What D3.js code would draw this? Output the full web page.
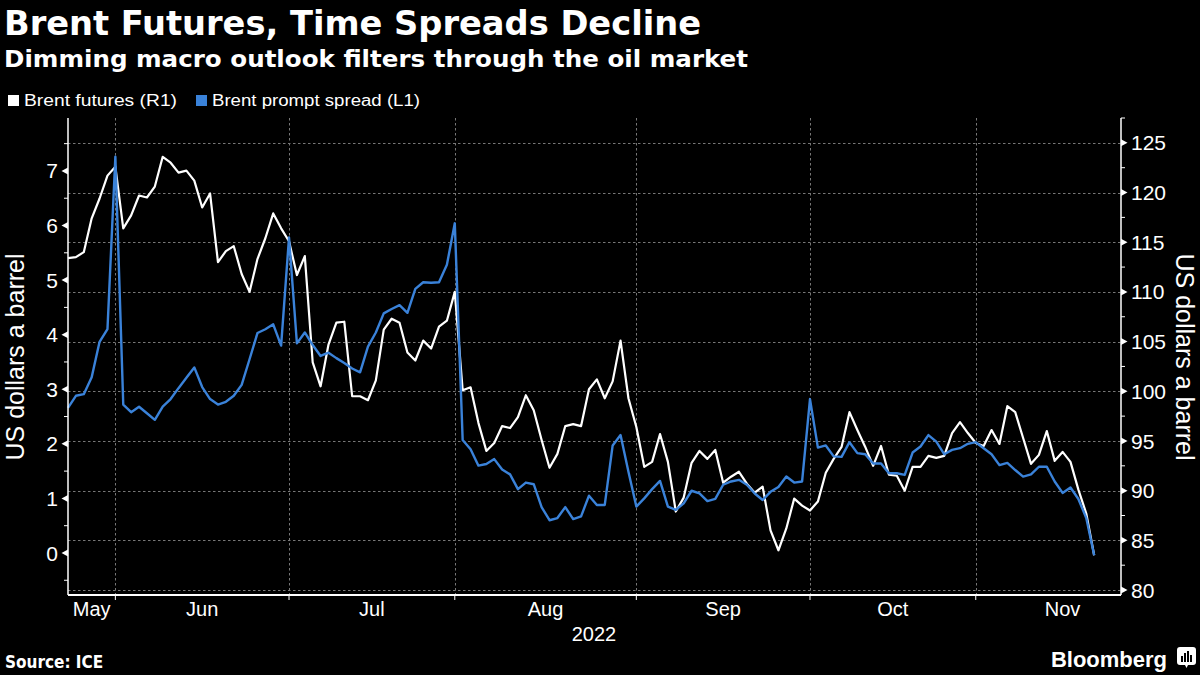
<!DOCTYPE html>
<html><head><meta charset="utf-8">
<script src="https://cdn.jsdelivr.net/npm/d3@7"></script>
<style>
body{margin:0;background:#000;}
svg{display:block;}
.cond{font-family:"DejaVu Sans Condensed","DejaVu Sans",sans-serif;font-stretch:condensed;}
.lib{font-family:"Liberation Sans Narrow","Liberation Sans",Arial,sans-serif;}
</style>
</head><body>
<svg id="chart" width="1200" height="675"></svg>
<script>
// ---------- DATA ----------
const firstDate = "2022-05-24";
const lastDate = "2022-11-22";
// Brent futures, front month (R1, USD/bbl), one value per trading day
const futures = [
113.4,113.5,114.0,117.4,119.4,121.7,122.6,116.4,117.7,119.7,
119.5,120.6,123.6,123.0,122.0,122.2,121.2,118.5,119.9,113.0,
114.1,114.6,111.8,110.0,113.3,115.4,117.9,116.4,115.1,111.7,
113.6,102.9,100.5,104.7,106.9,107.0,99.5,99.5,99.1,101.1,
106.2,107.3,106.9,103.9,103.1,105.1,104.3,106.5,107.1,110.0,
100.1,100.4,96.8,94.0,94.8,96.5,96.3,97.4,99.6,98.1,
95.1,92.3,93.7,96.5,96.7,96.5,100.2,101.2,99.3,101.0,
105.1,99.3,96.4,92.4,92.9,95.7,92.9,87.9,89.3,92.8,
94.0,93.2,94.1,90.8,91.4,91.9,90.7,89.8,90.4,86.0,
84.0,86.2,89.2,88.5,88.0,88.9,91.8,93.2,94.4,97.9,
96.1,94.4,92.5,94.5,91.6,91.5,90.0,92.4,92.4,93.5,
93.3,93.5,95.8,96.9,95.8,94.8,94.5,96.1,94.7,98.5,
97.9,95.3,92.7,93.6,96.0,93.0,93.9,92.9,90.1,87.7,
83.5];
// Brent prompt spread (L1, USD/bbl)
const spread = [
2.66,2.88,2.91,3.22,3.87,4.10,7.26,2.72,2.58,2.68,
2.56,2.44,2.68,2.82,3.02,3.21,3.40,3.04,2.82,2.72,
2.77,2.88,3.08,3.55,4.03,4.10,4.19,3.80,5.78,3.84,
4.04,3.81,3.61,3.67,3.57,3.48,3.38,3.31,3.78,4.04,
4.39,4.47,4.54,4.40,4.84,4.96,4.95,4.96,5.28,6.04,
2.07,1.90,1.60,1.63,1.72,1.53,1.44,1.17,1.29,1.26,
0.84,0.60,0.64,0.84,0.62,0.67,1.05,0.88,0.88,1.97,
2.16,1.49,0.85,1.00,1.17,1.32,0.85,0.79,0.91,1.14,
1.09,0.95,0.99,1.25,1.31,1.34,1.25,1.09,0.97,1.12,
1.21,1.40,1.29,1.31,2.82,1.93,1.97,1.77,1.76,2.03,
1.83,1.81,1.64,1.64,1.46,1.46,1.43,1.84,1.95,2.16,
2.04,1.81,1.89,1.92,2.00,2.03,1.92,1.81,1.61,1.65,
1.52,1.40,1.44,1.58,1.58,1.31,1.10,1.20,0.99,0.64,
-0.04];
const monthLabels = ["May","Jun","Jul","Aug","Sep","Oct","Nov"];
const yearLabel = "2022";
const leftTicks = [0,1,2,3,4,5,6,7];
const rightTicks = [80,85,90,95,100,105,110,115,120,125];
const seriesNames = ["Brent futures (R1)","Brent prompt spread (L1)"];
const seriesColors = ["#ffffff","#3a82d9"];

// ---------- LAYOUT ----------
const L = 68, R = 1121, T = 118, B = 595;
const svg = d3.select("#chart");
svg.append("rect").attr("width",1200).attr("height",675).attr("fill","#000");

const parse = d3.timeParse("%Y-%m-%d");
const isWeekday = d => d.getDay() !== 0 && d.getDay() !== 6;
const dates = d3.timeDay.range(parse(firstDate), d3.timeDay.offset(parse(lastDate),1)).filter(isWeekday);
// extended trading calendar used only to place month boundaries/labels
const cal = d3.timeDay.range(parse("2022-05-01"), parse("2022-12-15")).filter(isWeekday);
const offset = cal.findIndex(d => +d === +dates[0]);
const idxOf = d => cal.findIndex(c => +c === +d) - offset;

const x = d3.scaleLinear().domain([0, dates.length - 1 + 3.4]).range([L, R]);
const yL = d3.scaleLinear().domain([-0.77, 7.97]).range([B, T]);
const yR = d3.scaleLinear().domain([79.5, 127.5]).range([B, T]);

// month starts (first trading day of each month), May .. Dec
const months = d3.timeMonth.range(parse("2022-05-01"), parse("2022-12-02"));
const monthFirstIdx = months.map(m => idxOf(cal.find(c => c >= m)));

// ---------- GRID ----------
const grid = svg.append("g").attr("stroke","#777").attr("stroke-width",1).attr("stroke-dasharray","2.5,2.5");
grid.selectAll("line.h").data(rightTicks).join("line")
  .attr("x1",L).attr("x2",R).attr("y1",d=>Math.round(yR(d))+0.5).attr("y2",d=>Math.round(yR(d))+0.5);
grid.selectAll("line.v").data(monthFirstIdx.slice(1, 7)).join("line")
  .attr("y1",T).attr("y2",B).attr("x1",d=>Math.round(x(d))+0.5).attr("x2",d=>Math.round(x(d))+0.5);

// ---------- LINES ----------
const lineF = d3.line().x((d,i)=>x(i)).y(d=>yR(d));
const lineS = d3.line().x((d,i)=>x(i)).y(d=>yL(d));
svg.append("path").datum(futures).attr("d",lineF).attr("fill","none")
  .attr("stroke",seriesColors[0]).attr("stroke-width",2.2).attr("stroke-linejoin","round");
svg.append("path").datum(spread).attr("d",lineS).attr("fill","none")
  .attr("stroke",seriesColors[1]).attr("stroke-width",2.4).attr("stroke-linejoin","round");

// ---------- AXES ----------
const ax = svg.append("g").attr("stroke","#fff").attr("fill","none");
ax.append("line").attr("x1",L).attr("x2",L).attr("y1",T).attr("y2",B).attr("stroke-width",1.5);
ax.append("line").attr("x1",R).attr("x2",R).attr("y1",T).attr("y2",B).attr("stroke-width",1.5);
ax.append("line").attr("x1",L).attr("x2",R).attr("y1",B).attr("y2",B).attr("stroke-width",2);

// left ticks: triangles for majors, small lines for halves
svg.append("g").selectAll("path").data(leftTicks).join("path")
  .attr("d",d=>{const y=yL(d);return `M${L},${y-3.5}L${L-6.5},${y}L${L},${y+3.5}Z`;})
  .attr("fill","#fff");
const leftMinor = d3.range(-0.5, 8, 1);
svg.append("g").selectAll("line").data(leftMinor).join("line")
  .attr("x1",L-4).attr("x2",L).attr("y1",d=>yL(d)).attr("y2",d=>yL(d)).attr("stroke","#fff").attr("stroke-width",1);
svg.append("g").attr("class","lib").selectAll("text").data(leftTicks).join("text")
  .attr("x",L-10).attr("y",d=>yL(d)).attr("dy","0.36em").attr("text-anchor","end")
  .attr("fill","#fff").attr("font-size",21).text(d=>d);

// right ticks
svg.append("g").selectAll("path").data(rightTicks).join("path")
  .attr("d",d=>{const y=yR(d);return `M${R},${y-3.5}L${R+6.5},${y}L${R},${y+3.5}Z`;})
  .attr("fill","#fff");
const rightMinor = d3.range(82.5, 128, 5);
svg.append("g").selectAll("line").data(rightMinor).join("line")
  .attr("x1",R).attr("x2",R+4).attr("y1",d=>yR(d)).attr("y2",d=>yR(d)).attr("stroke","#fff").attr("stroke-width",1);
svg.append("g").attr("class","lib").selectAll("text").data(rightTicks).join("text")
  .attr("x",R+10).attr("y",d=>yR(d)).attr("dy","0.36em").attr("text-anchor","start")
  .attr("fill","#fff").attr("font-size",21).text(d=>d);

// x month ticks and labels
svg.append("g").selectAll("line").data(monthFirstIdx.slice(1,7)).join("line")
  .attr("x1",d=>x(d)).attr("x2",d=>x(d)).attr("y1",B).attr("y2",B+5).attr("stroke","#fff").attr("stroke-width",1);
const labelPos = monthLabels.map((m,i)=>{
  const a = Math.max(monthFirstIdx[i], 0), b = monthFirstIdx[i+1];
  return (a+b)/2;
});
svg.append("g").attr("class","lib").selectAll("text").data(monthLabels).join("text")
  .attr("x",(d,i)=>x(labelPos[i])).attr("y",616).attr("text-anchor","middle")
  .attr("fill","#fff").attr("font-size",20).text(d=>d);
svg.append("text").attr("class","lib").attr("x",(L+R)/2+0.5*(R-L)*0.0+ (594-(L+R)/2)).attr("y",641).attr("text-anchor","middle")
  .attr("fill","#fff").attr("font-size",20).text(yearLabel);

// axis titles
svg.append("text").attr("class","lib").attr("transform","translate(24,357) rotate(-90)")
  .attr("text-anchor","middle").attr("fill","#fff").attr("font-size",25).text("US dollars a barrel");
svg.append("text").attr("class","lib").attr("transform","translate(1176,357) rotate(90)")
  .attr("text-anchor","middle").attr("fill","#fff").attr("font-size",25).text("US dollars a barrel");

// ---------- TITLES ----------
svg.append("text").attr("class","cond").attr("x",4).attr("y",35).attr("fill","#fff")
  .attr("font-size",33).attr("font-weight","bold").attr("textLength",697).attr("lengthAdjust","spacingAndGlyphs")
  .text("Brent Futures, Time Spreads Decline");
svg.append("text").attr("class","cond").attr("x",4).attr("y",67).attr("fill","#fff")
  .attr("font-size",23).attr("font-weight","bold").attr("textLength",744).attr("lengthAdjust","spacingAndGlyphs")
  .text("Dimming macro outlook filters through the oil market");

// ---------- LEGEND ----------
const lg = svg.append("g");
const legX = [8, 196], legW = [153, 208];
seriesNames.forEach((n,i)=>{
  lg.append("rect").attr("x",legX[i]).attr("y",95).attr("width",11).attr("height",11).attr("fill",seriesColors[i]);
  lg.append("text").attr("class","lib").attr("x",legX[i]+16).attr("y",106).attr("fill","#fff")
    .attr("font-size",16).attr("textLength",legW[i]).attr("lengthAdjust","spacingAndGlyphs").text(n);
});

// ---------- FOOTER ----------
svg.append("text").attr("class","cond").attr("x",5).attr("y",668).attr("fill","#fff")
  .attr("font-size",17).attr("font-weight","bold").text("Source: ICE");
svg.append("text").attr("class","lib").attr("x",1167).attr("y",667).attr("text-anchor","end").attr("fill","#fff")
  .attr("font-size",22).attr("font-weight","bold").text("Bloomberg");
const logo = svg.append("g").attr("transform","translate(1177,647)");
logo.append("path").attr("d","M3,0H16Q19,0 19,3V15Q19,18 16,18H11L9.5,21L8,18H3Q0,18 0,15V3Q0,0 3,0Z").attr("fill","#fff");
[[4,9,2,6],[7,6,2,9],[10,4,2,11],[13,8,2,7]].forEach(b=>{
  logo.append("rect").attr("x",b[0]).attr("y",b[1]).attr("width",b[2]).attr("height",b[3]).attr("fill","#000");
});
</script>
</body></html>
